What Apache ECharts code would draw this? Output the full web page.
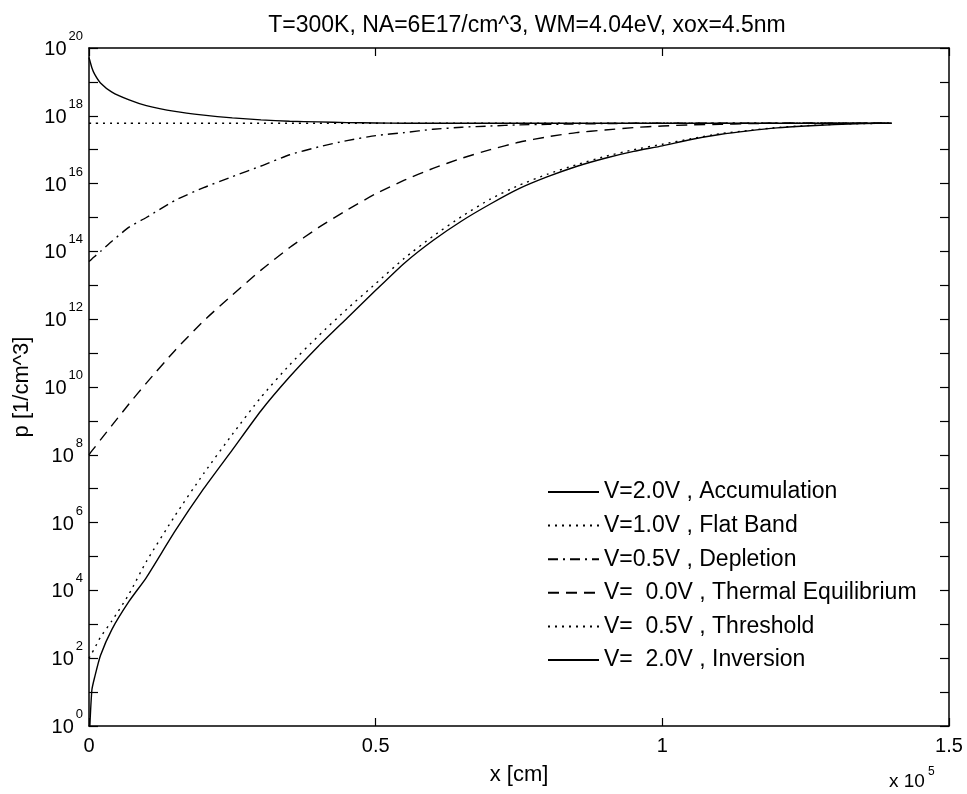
<!DOCTYPE html>
<html>
<head>
<meta charset="utf-8">
<script src="https://cdn.jsdelivr.net/npm/echarts@6/dist/echarts.min.js"></script>
<style>
  html, body { margin: 0; padding: 0; background: #fff; }
  #chart { width: 967px; height: 794px; }
</style>
</head>
<body>
<div id="chart"></div>
<script>
// x positions in units of 1e-5 cm
var xPos = [0, 0.005, 0.01, 0.02, 0.04, 0.07, 0.1, 0.15, 0.2, 0.25, 0.3, 0.35, 0.4, 0.45, 0.5,
  0.55, 0.6, 0.65, 0.7, 0.75, 0.8, 0.85, 0.9, 0.95, 1.0, 1.05, 1.1, 1.15, 1.2, 1.25, 1.3, 1.35, 1.4];

// hole density p [1/cm^3]
var pAccum = [5.25e19, 2.63e19, 1.66e19, 9.33e18, 5.01e18, 2.95e18, 2.0e18, 1.35e18, 1.05e18, 8.7e17,
  7.6e17, 6.9e17, 6.6e17, 6.3e17, 6.15e17, 6e17, 6e17, 6e17, 6e17, 6e17, 6e17, 6e17, 6e17, 6e17,
  6e17, 6e17, 6e17, 6e17, 6e17, 6e17, 6e17, 6e17, 6e17];
var pFlat = [6e17, 6e17, 6e17, 6e17, 6e17, 6e17, 6e17, 6e17, 6e17, 6e17, 6e17, 6e17, 6e17, 6e17,
  6e17, 6e17, 6e17, 6e17, 6e17, 6e17, 6e17, 6e17, 6e17, 6e17, 6e17, 6e17, 6e17, 6e17, 6e17, 6e17,
  6e17, 6e17, 6e17];
var pDepl = [5.0e13, 6.0e13, 7.1e13, 1.0e14, 2.0e14, 5.2e14, 1.0e15, 3.2e15, 7.6e15, 1.6e16, 3.3e16,
  7.1e16, 1.2e17, 1.86e17, 2.6e17, 3.2e17, 4.0e17, 4.6e17, 5.0e17, 5.4e17, 5.6e17, 5.75e17, 5.9e17,
  6e17, 6e17, 6e17, 6e17, 6e17, 6e17, 6e17, 6e17, 6e17, 6e17];
var pEquil = [1.0e8, 1.3e8, 1.66e8, 2.75e8, 7.4e8, 3.2e9, 1.3e10, 1.2e11, 8.9e11, 5.2e12, 2.8e13,
  1.3e14, 5.0e14, 1.66e15, 5.0e15, 1.26e16, 2.8e16, 5.6e16, 1.0e17, 1.66e17, 2.4e17, 3.2e17, 3.8e17,
  4.5e17, 5.0e17, 5.4e17, 5.6e17, 5.9e17, 6e17, 6e17, 6e17, 6e17, 6e17];
var pThresh = [100, 141, 200, 417, 1.26e3, 7.9e3, 7.1e4, 1.6e6, 2.8e7, 4.0e8, 5.0e9, 4.5e10, 3.2e11,
  2.0e12, 1.12e13, 6.3e13, 2.8e14, 1.07e15, 3.5e15, 8.9e15, 1.9e16, 3.6e16, 6.3e16, 1.0e17, 1.45e17,
  2.1e17, 2.95e17, 3.7e17, 4.5e17, 5.1e17, 5.6e17, 5.9e17, 6e17];
var pInv = [0.3, 11.5, 28, 120, 710, 4.8e3, 2.4e4, 5.6e5, 1.0e7, 1.4e8, 2.0e9, 2.0e10, 1.6e11, 1.07e12,
  7.1e12, 4.5e13, 2.1e14, 7.9e14, 2.5e15, 7.1e15, 1.6e16, 3.2e16, 5.6e16, 8.9e16, 1.3e17, 2.0e17,
  2.8e17, 3.6e17, 4.4e17, 5.0e17, 5.5e17, 5.9e17, 6e17];

var seriesNames = ['V=2.0V , Accumulation', 'V=1.0V , Flat Band', 'V=0.5V , Depletion',
  'V=  0.0V , Thermal Equilibrium', 'V=  0.5V , Threshold', 'V=  2.0V , Inversion'];
var xTicks = [0, 0.5, 1, 1.5];

var FONT = '"Liberation Sans", Arial, sans-serif';

function pairs(ys) {
  return xPos.map(function (x, i) { return [x, ys[i]]; });
}

function mkLine(name, ys, dash) {
  return {
    name: name,
    type: 'line',
    data: pairs(ys),
    symbol: 'none',
    showSymbol: false,
    smooth: 0.2,
    clip: true,
    color: '#000',
    lineStyle: { color: '#000', width: 1.4, type: dash },
    emphasis: { disabled: true }
  };
}

// decade labels only on even exponents, 10 with a raised exponent
function yLabel(v) {
  var n = Math.round(Math.log10(v));
  if (n % 2 !== 0) return '';
  return '{b|10}{s|' + n + '}';
}

var chart = echarts.init(document.getElementById('chart'), null, { renderer: 'canvas' });

var axisLineStyle = { color: '#000', width: 1.5 };
var tickStyle = { color: '#000', width: 1.2 };

var option = {
  animation: false,
  backgroundColor: '#fff',
  title: {
    text: 'T=300K, NA=6E17/cm^3, WM=4.04eV, xox=4.5nm',
    left: 522,
    top: 9,
    textAlign: 'center',
    textStyle: { fontFamily: FONT, fontSize: 23, fontWeight: 'normal', color: '#000' }
  },
  grid: { left: 89, right: 18, top: 48, bottom: 68 },
  legend: {
    orient: 'vertical',
    left: 547,
    top: 480,
    padding: 0,
    itemWidth: 51,
    itemHeight: 14,
    itemGap: 9.6,
    data: seriesNames,
    itemStyle: { color: 'transparent', borderWidth: 0, opacity: 0 },
    textStyle: { fontFamily: FONT, fontSize: 23, color: '#000', lineHeight: 24 },
    selectedMode: false
  },
  xAxis: [{
    type: 'value',
    min: 0,
    max: 1.5,
    interval: 0.5,
    name: 'x [cm]',
    nameLocation: 'middle',
    nameGap: 38,
    nameTextStyle: { fontFamily: FONT, fontSize: 22, color: '#000' },
    axisLine: { onZero: false, lineStyle: axisLineStyle },
    axisTick: { inside: true, length: 8, lineStyle: tickStyle },
    axisLabel: {
      fontFamily: FONT, fontSize: 20, color: '#000', margin: 10,
      formatter: function (v) { return xTicks.indexOf(v) >= 0 ? String(v) : ''; }
    },
    splitLine: { show: false }
  }, {
    type: 'value',
    position: 'top',
    min: 0,
    max: 1.5,
    interval: 0.5,
    axisLine: { onZero: false, lineStyle: axisLineStyle },
    axisTick: { inside: true, length: 8, lineStyle: tickStyle },
    axisLabel: { show: false },
    splitLine: { show: false }
  }],
  yAxis: [{
    type: 'log',
    logBase: 10,
    min: 1,
    max: 1e20,
    interval: 1,
    name: 'p [1/cm^3]',
    nameLocation: 'middle',
    nameGap: 52,
    nameTextStyle: { fontFamily: FONT, fontSize: 22, color: '#000' },
    axisLine: { onZero: false, lineStyle: axisLineStyle },
    axisTick: { inside: true, length: 9, lineStyle: tickStyle },
    axisLabel: {
      margin: 6,
      formatter: yLabel,
      rich: {
        b: { fontFamily: FONT, fontSize: 20, color: '#000', lineHeight: 20, padding: [9.5, 0, 6.5, 0] },
        s: { fontFamily: FONT, fontSize: 13, color: '#000', lineHeight: 13, padding: [0, 0, 23, 2] }
      }
    },
    splitLine: { show: false }
  }, {
    type: 'log',
    logBase: 10,
    position: 'right',
    min: 1,
    max: 1e20,
    interval: 1,
    axisLine: { onZero: false, lineStyle: axisLineStyle },
    axisTick: { inside: true, length: 9, lineStyle: tickStyle },
    axisLabel: { show: false },
    splitLine: { show: false }
  }],
  graphic: [{
    type: 'text',
    left: 889,
    top: 766,
    style: {
      text: '{b|x 10}{s|5}',
      rich: {
        b: { fontFamily: FONT, fontSize: 19, fill: '#000', lineHeight: 19, padding: [6, 0, 0, 0] },
        s: { fontFamily: FONT, fontSize: 12, fill: '#000', lineHeight: 12, padding: [0, 0, 13, 3] }
      }
    }
  }],
  series: [
    mkLine(seriesNames[0], pAccum, 'solid'),
    mkLine(seriesNames[1], pFlat, [2, 5]),
    mkLine(seriesNames[2], pDepl, [10, 5, 2, 5]),
    mkLine(seriesNames[3], pEquil, [11, 7]),
    mkLine(seriesNames[4], pThresh, [2, 5]),
    mkLine(seriesNames[5], pInv, 'solid')
  ]
};

chart.setOption(option);
</script>
</body>
</html>
